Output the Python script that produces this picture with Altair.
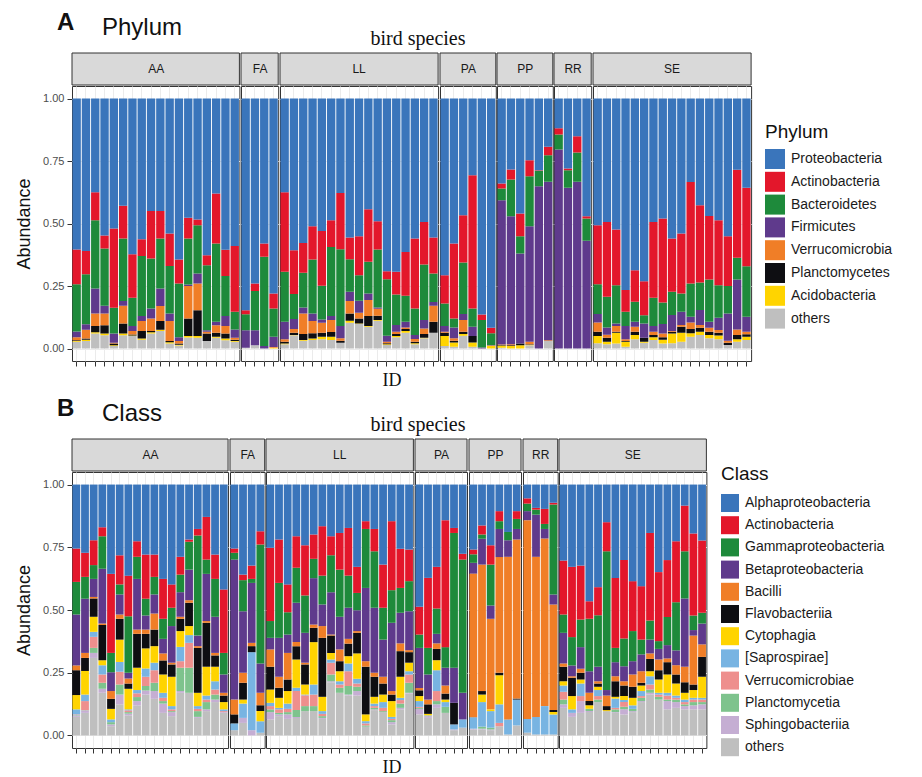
import altair as alt
import numpy as np
import pandas as pd

SPECIES = ["AA", "FA", "LL", "PA", "PP", "RR", "SE"]

# ---------------- Phylum: cumulative tops per bar (bottom -> top):
# others, Acidobacteria, Planctomycetes, Verrucomicrobia, Firmicutes, Bacteroidetes, Actinobacteria
PHY_STACK = ["others", "Acidobacteria", "Planctomycetes", "Verrucomicrobia",
             "Firmicutes", "Bacteroidetes", "Actinobacteria"]
PHY_TOP = "Proteobacteria"
PHY_LEGEND = ["Proteobacteria", "Actinobacteria", "Bacteroidetes", "Firmicutes",
              "Verrucomicrobia", "Planctomycetes", "Acidobacteria", "others"]
PHY_COLORS = ["#3A75BB", "#E3172B", "#1E8A3B", "#5F3A8C", "#F07E27", "#0E0E12", "#FFD400", "#BFBFBF"]

phy_AA = [
    (.027, .030, .033, .045, .068, .257, .396),
    (.030, .035, .040, .075, .097, .297, .390),
    (.060, .065, .090, .140, .240, .513, .625),
    (.053, .060, .093, .140, .171, .400, .452),
    (.010, .013, .020, .023, .060, .163, .480),
    (.053, .060, .100, .171, .190, .440, .571),
    (.050, .052, .056, .070, .090, .203, .377),
    (.035, .040, .070, .110, .130, .370, .437),
    (.060, .065, .070, .120, .160, .360, .550),
    (.070, .075, .110, .170, .240, .440, .550),
    (.020, .025, .030, .110, .140, .330, .460),
    (.012, .015, .020, .030, .045, .260, .356),
    (.044, .050, .120, .250, .256, .440, .523),
    (.043, .050, .153, .260, .300, .493, .516),
    (.030, .030, .060, .067, .073, .333, .373),
    (.043, .047, .063, .093, .107, .420, .620),
    (.033, .040, .060, .090, .130, .290, .395),
    (.027, .030, .035, .043, .076, .147, .410),
]
phy_FA = [
    (.003, .003, .003, .003, .073, .137, .153),
    (.013, .013, .013, .013, .073, .230, .260),
    (.000, .000, .000, .000, .010, .367, .420),
    (.000, .003, .003, .006, .047, .160, .220),
]
phy_LL = [
    (.017, .020, .027, .037, .107, .307, .625),
    (.053, .054, .063, .078, .118, .218, .393),
    (.031, .034, .058, .140, .164, .303, .422),
    (.034, .040, .061, .110, .140, .356, .489),
    (.037, .047, .063, .103, .116, .251, .470),
    (.034, .047, .066, .114, .130, .406, .513),
    (.023, .023, .031, .041, .090, .397, .622),
    (.103, .111, .140, .190, .227, .357, .444),
    (.098, .100, .120, .143, .191, .293, .449),
    (.087, .090, .130, .194, .220, .347, .557),
    (.111, .114, .131, .159, .164, .396, .509),
    (.014, .017, .021, .027, .051, .277, .309),
    (.045, .050, .058, .067, .094, .216, .307),
    (.063, .070, .078, .084, .107, .211, .386),
    (.017, .021, .027, .038, .054, .160, .440),
    (.041, .043, .058, .080, .114, .336, .506),
    (.063, .063, .107, .171, .186, .300, .444),
]
phy_PA = [
    (.010, .050, .063, .067, .090, .180, .293),
    (.007, .024, .031, .041, .084, .120, .420),
    (.051, .058, .067, .114, .138, .344, .533),
    (.007, .024, .050, .050, .087, .160, .693),
    (.000, .000, .000, .000, .004, .114, .136),
    (.000, .012, .012, .012, .014, .061, .083),
]
phy_PP = [
    (.003, .012, .014, .016, .593, .640, .660),
    (.000, .010, .013, .017, .529, .676, .716),
    (.000, .013, .020, .020, .380, .449, .540),
    (.013, .015, .017, .027, .489, .689, .753),
    (.000, .000, .000, .000, .649, .711, .713),
    (.030, .030, .030, .033, .667, .773, .807),
]
phy_RR = [
    (0, 0, 0, 0, .796, .856, .881),
    (0, 0, 0, 0, .643, .713, .720),
    (0, 0, 0, 0, .667, .784, .849),
    (0, 0, 0, 0, .431, .520, .529),
]
phy_SE = [
    (.021, .050, .067, .104, .138, .257, .493),
    (.017, .027, .043, .055, .084, .207, .506),
    (.020, .063, .067, .090, .100, .253, .476),
    (.007, .027, .030, .037, .090, .147, .234),
    (.037, .054, .067, .087, .107, .187, .313),
    (.023, .027, .043, .043, .100, .133, .269),
    (.034, .045, .054, .067, .090, .203, .506),
    (.020, .035, .045, .060, .098, .184, .520),
    (.021, .060, .067, .070, .134, .227, .440),
    (.027, .063, .087, .094, .147, .220, .460),
    (.047, .061, .078, .104, .127, .260, .666),
    (.054, .067, .083, .094, .154, .264, .573),
    (.041, .054, .067, .083, .107, .276, .530),
    (.037, .052, .063, .074, .123, .253, .513),
    (.014, .014, .023, .031, .140, .250, .449),
    (.027, .037, .054, .076, .276, .363, .715),
    (.034, .047, .057, .067, .127, .329, .643),
]

# ---------------- Class: cumulative tops per bar (bottom -> top):
CLS_STACK = ["others", "Sphingobacteriia", "Planctomycetia", "Verrucomicrobiae", "[Saprospirae]",
             "Cytophagia", "Flavobacteriia", "Bacilli", "Betaproteobacteria",
             "Gammaproteobacteria", "Actinobacteria"]
CLS_TOP = "Alphaproteobacteria"
CLS_LEGEND = ["Alphaproteobacteria", "Actinobacteria", "Gammaproteobacteria", "Betaproteobacteria",
              "Bacilli", "Flavobacteriia", "Cytophagia", "[Saprospirae]", "Verrucomicrobiae",
              "Planctomycetia", "Sphingobacteriia", "others"]
CLS_COLORS = ["#3A75BB", "#E3172B", "#1E8A3B", "#5F3A8C", "#F07E27", "#0E0E12", "#FFD400",
              "#78B4E2", "#EE8F8D", "#7EC38D", "#C5AED3", "#BFBFBF"]

cls_AA = [
    (.074, .080, .082, .084, .104, .161, .260, .279, .482, .612, .745),
    (.090, .100, .101, .137, .163, .257, .309, .329, .545, .632, .728),
    (.309, .329, .349, .393, .413, .473, .546, .552, .624, .679, .778),
    (.170, .186, .210, .243, .280, .300, .440, .446, .664, .794, .830),
    (.037, .044, .053, .053, .064, .106, .146, .177, .252, .329, .644),
    (.124, .163, .203, .254, .293, .382, .465, .482, .562, .602, .718),
    (.080, .087, .093, .100, .104, .186, .207, .227, .250, .475, .637),
    (.120, .137, .153, .168, .181, .270, .405, .422, .624, .712, .774),
    (.163, .179, .197, .234, .267, .347, .405, .422, .478, .545, .721),
    (.146, .177, .210, .260, .290, .356, .422, .486, .562, .632, .721),
    (.090, .127, .137, .150, .170, .243, .299, .327, .385, .465, .624),
    (.077, .093, .097, .104, .117, .234, .283, .290, .436, .509, .602),
    (.170, .177, .270, .296, .353, .416, .465, .473, .571, .641, .712),
    (.170, .170, .270, .369, .400, .436, .529, .539, .661, .772, .781),
    (.070, .074, .097, .106, .117, .170, .349, .356, .398, .797, .823),
    (.097, .104, .133, .143, .159, .274, .449, .456, .644, .701, .871),
    (.133, .143, .163, .183, .216, .274, .319, .329, .473, .624, .721),
    (.090, .093, .093, .097, .104, .133, .159, .170, .243, .329, .582),
]
cls_FA = [
    (.021, .021, .021, .021, .048, .048, .084, .143, .701, .728, .745),
    (.050, .070, .070, .070, .127, .143, .210, .250, .495, .619, .641),
    (.000, .021, .021, .021, .332, .332, .356, .369, .608, .624, .677),
    (.011, .011, .011, .011, .057, .097, .120, .170, .287, .761, .814),
]
cls_LL = [
    (.064, .093, .104, .117, .130, .183, .274, .343, .389, .456, .748),
    (.077, .084, .090, .104, .110, .150, .190, .234, .389, .608, .781),
    (.066, .084, .093, .106, .127, .177, .223, .329, .402, .491, .602),
    (.070, .074, .101, .177, .190, .303, .356, .372, .529, .668, .794),
    (.097, .097, .117, .160, .163, .203, .283, .290, .409, .558, .758),
    (.097, .097, .117, .163, .203, .372, .429, .442, .627, .704, .801),
    (.066, .070, .077, .086, .097, .154, .389, .436, .522, .637, .834),
    (.212, .216, .243, .290, .303, .329, .398, .402, .571, .718, .794),
    (.170, .170, .190, .203, .216, .256, .296, .343, .473, .661, .807),
    (.159, .163, .197, .256, .287, .316, .366, .385, .509, .637, .827),
    (.159, .177, .194, .207, .226, .327, .409, .416, .499, .568, .672),
    (.034, .035, .040, .048, .057, .084, .274, .296, .588, .823, .854),
    (.101, .104, .110, .117, .127, .154, .234, .250, .509, .734, .823),
    (.093, .093, .097, .110, .133, .163, .207, .234, .382, .509, .681),
    (.044, .053, .061, .066, .074, .137, .163, .177, .449, .579, .854),
    (.104, .110, .127, .141, .150, .234, .336, .367, .489, .588, .744),
    (.167, .170, .210, .243, .256, .290, .332, .340, .495, .615, .741),
]
cls_PA = [
    (.084, .106, .110, .114, .137, .157, .180, .189, .349, .402, .513),
    (.070, .074, .074, .076, .080, .086, .124, .143, .243, .349, .628),
    (.110, .124, .137, .177, .260, .300, .345, .367, .405, .506, .672),
    (.090, .090, .114, .114, .133, .143, .167, .199, .270, .352, .858),
    (.021, .024, .024, .024, .044, .044, .130, .130, .270, .807, .827),
    (.031, .031, .031, .031, .064, .064, .064, .064, .170, .701, .724),
]
cls_PP = [
    (.024, .027, .027, .027, .073, .073, .073, .645, .688, .722, .741),
    (.024, .027, .035, .035, .133, .163, .177, .681, .784, .801, .837),
    (.021, .024, .031, .031, .097, .104, .104, .465, .518, .681, .758),
    (.037, .037, .037, .050, .124, .240, .250, .711, .823, .854, .894),
    (.004, .004, .004, .004, .064, .064, .064, .712, .778, .811, .811),
    (.040, .040, .040, .040, .143, .143, .147, .781, .823, .863, .894),
]
cls_RR = [
    (.011, .011, .011, .011, .066, .066, .066, .858, .894, .924, .945),
    (.004, .004, .004, .004, .074, .074, .074, .712, .880, .900, .907),
    (.004, .004, .004, .004, .117, .117, .117, .785, .823, .843, .903),
    (.004, .004, .004, .004, .084, .093, .101, .522, .562, .920, .927),
]
cls_SE = [
    (.110, .124, .143, .174, .199, .216, .274, .287, .409, .482, .697),
    (.074, .090, .090, .090, .104, .157, .230, .236, .279, .392, .672),
    (.090, .137, .137, .157, .207, .223, .250, .266, .352, .462, .677),
    (.093, .097, .106, .106, .106, .120, .137, .170, .256, .465, .535),
    (.133, .133, .143, .157, .181, .194, .207, .216, .274, .479, .591),
    (.097, .097, .097, .097, .097, .101, .117, .159, .181, .734, .850),
    (.090, .093, .104, .110, .147, .154, .216, .236, .292, .349, .628),
    (.084, .104, .114, .133, .141, .157, .199, .216, .276, .386, .699),
    (.093, .097, .106, .106, .120, .150, .194, .243, .296, .416, .615),
    (.133, .137, .150, .157, .177, .199, .210, .256, .323, .382, .595),
    (.163, .170, .183, .203, .236, .256, .305, .327, .382, .458, .807),
    (.143, .143, .154, .163, .170, .223, .260, .303, .345, .376, .651),
    (.104, .137, .143, .159, .170, .243, .292, .307, .360, .472, .699),
    (.110, .133, .143, .150, .159, .207, .243, .280, .339, .531, .774),
    (.104, .117, .124, .133, .143, .170, .212, .274, .546, .734, .916),
    (.104, .120, .133, .143, .150, .181, .203, .398, .420, .478, .805),
    (.104, .124, .133, .143, .150, .234, .313, .363, .446, .489, .777),
]

PHY_GROUPS = {"AA": phy_AA, "FA": phy_FA, "LL": phy_LL, "PA": phy_PA,
              "PP": phy_PP, "RR": phy_RR, "SE": phy_SE}
CLS_GROUPS = {"AA": cls_AA, "FA": cls_FA, "LL": cls_LL, "PA": cls_PA,
              "PP": cls_PP, "RR": cls_RR, "SE": cls_SE}


def build_df(groups, stack_names, top_name):
    rows = []
    names = stack_names + [top_name]
    for sp in SPECIES:
        bars = groups[sp]
        n = len(bars)
        mid = n // 2 if n % 2 == 0 else (n - 1) // 2
        for i, tops in enumerate(bars):
            bid = f"{sp}{i + 1:02d}"
            bounds = [0.0] + list(np.maximum.accumulate(np.array(tops, dtype=float))) + [1.0]
            for j, name in enumerate(names):
                flag = ""
                if j == 0 and i == mid:
                    flag = "even" if n % 2 == 0 else "odd"
                if j == 1 and i == 0 and sp == "AA":
                    flag = "first"
                if j == 1 and i == 0 and sp == "LL":
                    flag = "mid"
                rows.append(dict(species=sp, ID=bid, taxon=name,
                                 lo=bounds[j], hi=bounds[j + 1], flag=flag))
    return pd.DataFrame(rows)


SANS = "Liberation Sans"
SERIF = "Liberation Serif"


def make_panel(df, legend_order, colors, step, height, legend_title, letter, word,
               bs_x, id_x, leg_x, leg_y, sym_size, row_pad, title_pad):
    xscale = alt.Scale(paddingInner=0.1, paddingOuter=0.05)
    xaxis = alt.Axis(labels=False, title=None, domain=False, ticks=True, tickSize=5,
                     tickColor="#333333", tickWidth=1, grid=True, gridColor="#EBEBEB")
    yaxis = alt.Axis(values=[0, 0.25, 0.5, 0.75, 1.0], format=".2f", title="Abundance",
                     titleFontSize=18, titleFontWeight="normal", titleColor="#111111",
                     titleFont=SANS, labelFont=SANS, labelFontSize=11, labelColor="#4D4D4D",
                     tickColor="#333333", tickSize=5, domain=False, grid=True,
                     gridColor="#EBEBEB", titlePadding=9, labelPadding=3)
    yscale = alt.Scale(domain=[-0.05, 1.05], nice=False, zero=False)

    bars = alt.Chart().mark_bar().encode(
        x=alt.X("ID:N", scale=xscale, axis=xaxis, title=None),
        y=alt.Y("lo:Q", scale=yscale, axis=yaxis),
        y2="hi:Q",
        color=alt.Color("taxon:N", scale=alt.Scale(domain=legend_order, range=colors),
                        legend=alt.Legend(title=legend_title, orient="none",
                                          legendX=leg_x, legendY=leg_y,
                                          titleFontSize=19, titleFontWeight="normal",
                                          titleColor="#111111", titleFont=SANS,
                                          labelFont=SANS, labelFontSize=14,
                                          labelColor="#1A1A1A", symbolType="square",
                                          symbolSize=sym_size, symbolStrokeWidth=0,
                                          symbolOpacity=1, rowPadding=row_pad,
                                          labelOffset=6, titlePadding=title_pad)),
    )
    strip = alt.Chart().transform_filter(
        "datum.flag == 'even' || datum.flag == 'odd'"
    ).mark_rect(fill="#D9D9D9", stroke="#333333", strokeWidth=1).encode(
        x=alt.value(0), x2=alt.value("width"), y=alt.value(-33), y2=alt.value(-1)
    )
    lab_even = alt.Chart().transform_filter("datum.flag == 'even'").mark_text(
        font=SANS, fontSize=12, color="#1A1A1A", baseline="middle"
    ).encode(x=alt.X("ID:N", scale=xscale, axis=xaxis, title=None, bandPosition=0),
             y=alt.value(-17), text="species:N")
    lab_odd = alt.Chart().transform_filter("datum.flag == 'odd'").mark_text(
        font=SANS, fontSize=12, color="#1A1A1A", baseline="middle"
    ).encode(x=alt.X("ID:N", scale=xscale, axis=xaxis, title=None, bandPosition=0.5),
             y=alt.value(-17), text="species:N")
    t_letter = alt.Chart().transform_filter("datum.flag == 'first'").mark_text(
        text=letter, font=SANS, fontSize=24, fontWeight="bold", color="#111111",
        align="left", baseline="alphabetic"
    ).encode(x=alt.value(-15), y=alt.value(-56))
    t_word = alt.Chart().transform_filter("datum.flag == 'first'").mark_text(
        text=word, font=SANS, fontSize=24, color="#111111",
        align="left", baseline="alphabetic"
    ).encode(x=alt.value(30), y=alt.value(-51))
    t_bs = alt.Chart().transform_filter("datum.flag == 'mid'").mark_text(
        text="bird species", font=SERIF, fontSize=20, color="#111111",
        align="center", baseline="alphabetic"
    ).encode(x=alt.value(bs_x), y=alt.value(-41))
    t_id = alt.Chart().transform_filter("datum.flag == 'mid'").mark_text(
        text="ID", font=SERIF, fontSize=18, color="#111111",
        align="center", baseline="alphabetic"
    ).encode(x=alt.value(id_x), y=alt.value(height + 25))

    layered = alt.layer(strip, bars, lab_even, lab_odd, t_letter, t_word, t_bs, t_id,
                        data=df).properties(width=alt.Step(step), height=height)
    return layered.facet(
        column=alt.Column("species:N", sort=SPECIES,
                          header=alt.Header(labels=False, title=None)),
        spacing=1,
    ).resolve_scale(x="independent").properties(bounds="flush")


df_phy = build_df(PHY_GROUPS, PHY_STACK, PHY_TOP)
df_cls = build_df(CLS_GROUPS, CLS_STACK, CLS_TOP)

panel_a = make_panel(df_phy, PHY_LEGEND, PHY_COLORS, 9.3, 275, "Phylum", "A", "Phylum",
                     138, 112, 693, 37, 400, 2.8, 7)
panel_b = make_panel(df_cls, CLS_LEGEND, CLS_COLORS, 8.67, 276, "Class", "B", "Class",
                     152, 126, 649, -7, 324, 4.2, 10)

chart = alt.vconcat(panel_a, panel_b, spacing=5).resolve_scale(
    color="independent"
).resolve_legend(color="independent").configure_view(
    stroke="#333333", strokeWidth=1
).properties(padding={"left": 7, "top": 2, "right": 5, "bottom": 2})

chart.save("out.html", embed_options={"renderer": "svg", "actions": False})
